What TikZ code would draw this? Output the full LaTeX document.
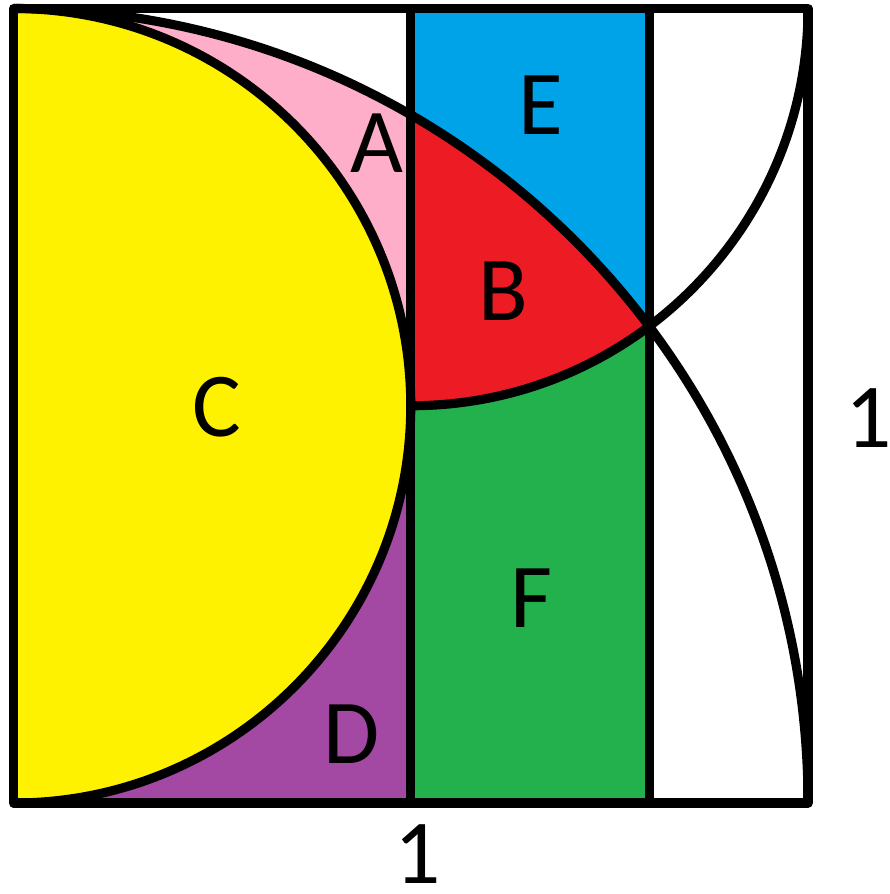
\documentclass[tikz,border=0pt]{standalone}
\usepackage{fontspec}
\setmainfont{Carlito}
\usepackage{tikz}
\definecolor{paintyellow}{HTML}{FFF200}
\definecolor{paintpink}{HTML}{FFAEC9}
\definecolor{paintred}{HTML}{ED1C24}
\definecolor{paintblue}{HTML}{00A2E8}
\definecolor{paintgreen}{HTML}{22B14C}
\definecolor{paintpurple}{HTML}{A349A4}
\begin{document}
\begin{tikzpicture}[x=3.9725cm,y=3.9725cm,line join=round,
 edge/.style={line width=2.6pt},
 lbl/.style={inner sep=0pt,font=\fontsize{26}{30}\selectfont}]
\useasboundingbox (-.034,-.229) rectangle (2.204,2.0214);
% regions
\fill[paintyellow] (0,0) arc[start angle=-90,end angle=90,radius=1] -- cycle;
\fill[paintpink] (0,2) arc[start angle=90,end angle=60,radius=2] -- (1,1)
 arc[start angle=0,end angle=90,radius=1] -- cycle;
\fill[paintblue] (1,2) -- (1,1.732) arc[start angle=60,end angle=36.87,radius=2]
 -- (1.6,2) -- cycle;
\fill[paintred] (1,1) -- (1,1.732) arc[start angle=60,end angle=36.87,radius=2]
 arc[start angle=-53.13,end angle=-90,radius=1] -- cycle;
\fill[paintgreen] (1,0) -- (1,1) arc[start angle=-90,end angle=-53.13,radius=1]
 -- (1.6,0) -- cycle;
\fill[paintpurple] (0,0) -- (1,0) -- (1,1) arc[start angle=0,end angle=-90,radius=1]
 -- cycle;
% outlines
\draw[edge] (0,0) arc[start angle=-90,end angle=90,radius=1];
\draw[edge] (0,2) arc[start angle=90,end angle=0,radius=2];
\draw[edge] (1,1) arc[start angle=-90,end angle=0,radius=1];
\draw[edge] (1,0)--(1,2);
\draw[edge] (1.6,0)--(1.6,2);
\draw[edge] (0,0) rectangle (2,2);
% labels
\node[lbl] (labA) at (.915,1.661) {A};
\node[lbl] (labB) at (1.232,1.289) {B};
\node[lbl] (labC) at (.512,.997) {C};
\node[lbl] (labD) at (.850,.174) {D};
\node[lbl] (labE) at (1.328,1.757) {E};
\node[lbl] (labF) at (1.305,.516) {F};
\node[lbl] (bottom) at (1.018,-.128) {1};
\node[lbl] (right) at (2.152,.969) {1};
\end{tikzpicture}
\end{document}
